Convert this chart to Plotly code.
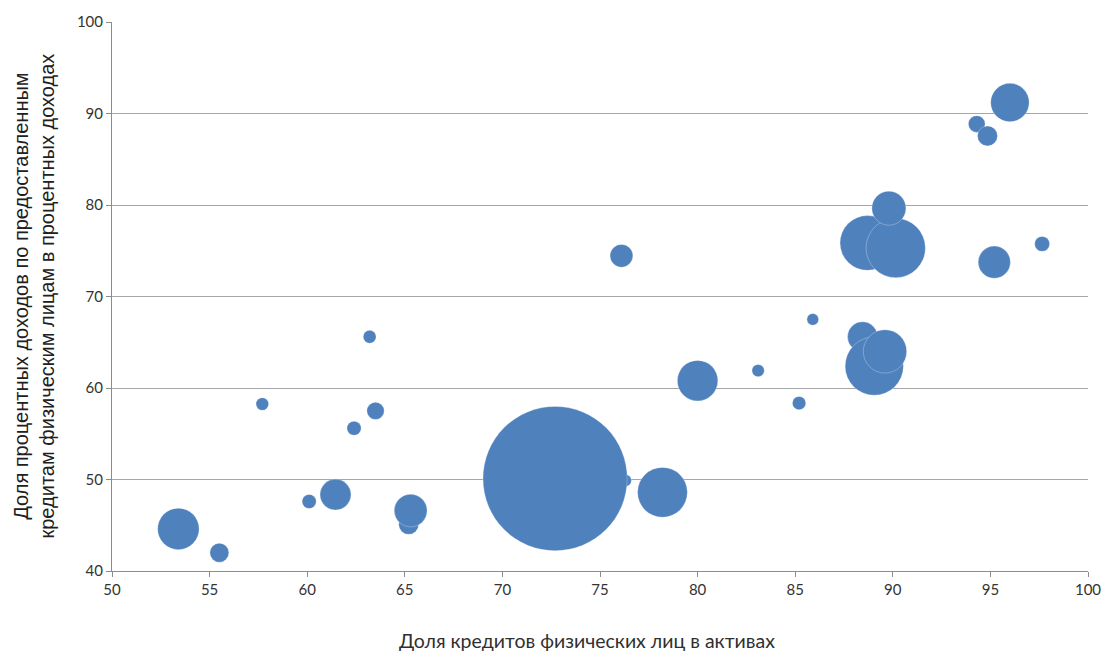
import plotly.graph_objects as go

# Share of retail loans in assets (%)
loan_share = [76.3, 53.4, 55.5, 57.7, 60.1, 61.45, 62.4, 63.2, 63.5, 65.2, 65.3,
              72.7, 76.1, 78.2, 80.0, 83.1, 85.2, 85.9, 88.45, 89.05,
              89.6, 88.7, 90.15, 89.8, 94.3, 94.85, 96.0, 95.2, 97.65]
# Share of interest income on retail loans in interest income (%)
income_share = [49.9, 44.6, 42.0, 58.25, 47.6, 48.35, 55.6, 65.6, 57.5, 45.1, 46.6,
                50.1, 74.45, 48.6, 60.8, 61.9, 58.35, 67.5, 65.6, 62.4,
                64.0, 75.85, 75.3, 79.65, 88.85, 87.55, 91.2, 73.75, 75.75]
# Bubble size (relative assets)
bubble_size = [36, 430, 90, 40, 50, 240, 50, 42, 75, 100, 270,
               5200, 130, 620, 410, 38, 45, 34, 225, 850,
               470, 750, 880, 290, 70, 100, 370, 260, 56]

x_title = "Доля кредитов физических лиц в активах"
y_title = "Доля процентных доходов по предоставленным<br>кредитам физическим лицам в процентных доходах"

fig = go.Figure(go.Scatter(
    x=loan_share, y=income_share, mode="markers",
    marker=dict(size=bubble_size, sizemode="area", sizeref=0.5, sizemin=2,
                color="#4f81bd", opacity=1,
                line=dict(color="rgba(255,255,255,0.4)", width=0.7)),
    hoverinfo="x+y",
))

fig.update_layout(
    width=1106, height=652,
    margin=dict(l=112, r=18, t=22, b=81),
    paper_bgcolor="white", plot_bgcolor="white",
    showlegend=False,
    font=dict(family="Lato, 'Open Sans', sans-serif", color="#333333", size=15),
    xaxis=dict(range=[50, 100], tickvals=list(range(50, 101, 5)),
               showgrid=False, zeroline=False, automargin=False,
               showline=True, linecolor="#8c8c8c", linewidth=1,
               ticks="outside", ticklen=5, tickcolor="#8c8c8c",
               tickfont=dict(size=15, color="#333333")),
    yaxis=dict(range=[40, 100], tickvals=list(range(40, 101, 10)),
               showgrid=True, gridcolor="#a6a6a6", gridwidth=1, zeroline=False,
               automargin=False,
               showline=True, linecolor="#8c8c8c", linewidth=1,
               ticks="outside", ticklen=5, tickcolor="#8c8c8c",
               tickfont=dict(size=15, color="#333333")),
    annotations=[
        dict(text=x_title, xref="paper", yref="paper", x=0.5, y=0,
             xshift=-13, yshift=-69, xanchor="center", yanchor="middle",
             showarrow=False, font=dict(size=19.5, color="#303030",
                                        family="Lato, sans-serif")),
        dict(text=y_title, xref="paper", yref="paper", x=0, y=0.5,
             xshift=-79, xanchor="center", yanchor="middle", textangle=-90,
             showarrow=False,
             font=dict(size=20, color="#202020",
                       family="'Liberation Sans', Arial, sans-serif")),
    ],
)

fig.write_html("out.html", config={"displayModeBar": False},
               post_script="document.body.style.margin='0';document.body.style.overflow='hidden';")
